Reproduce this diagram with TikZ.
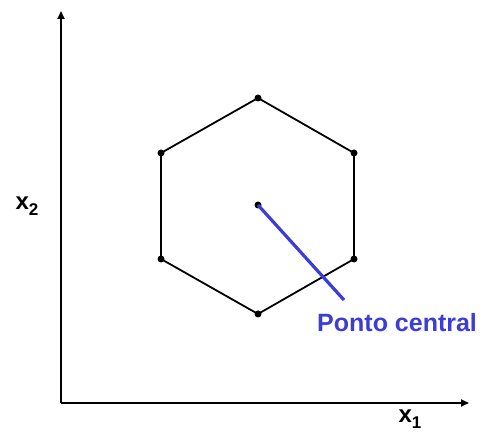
\documentclass[tikz,border=0pt]{standalone}
\usepackage{fontspec}
\setmainfont{Liberation Sans}
\usetikzlibrary{arrows.meta}
\definecolor{pblue}{RGB}{60,60,215}
\begin{document}
\begin{tikzpicture}[x=1pt,y=-1pt,
  axis/.style={line width=1.9pt,-{Triangle[length=8pt,width=7pt]}},
  hexedge/.style={line width=1.8pt,line join=round},
  vdot/.style={circle,fill=black,inner sep=0pt,minimum size=7pt},
  lbl/.style={font=\bfseries\fontsize{24}{28}\selectfont,inner sep=0pt}]
\useasboundingbox (0,0) rectangle (482,435);
\coordinate (o) at (61,403);
\coordinate (ytop) at (61,11);
\coordinate (xend) at (469,403);
\draw[axis] (o) -- (ytop);
\draw[axis] (o) -- (xend);
\node[vdot] (v1) at (258,98) {};
\node[vdot] (v2) at (354,153) {};
\node[vdot] (v3) at (354,259) {};
\node[vdot] (v4) at (258,314) {};
\node[vdot] (v5) at (161,259) {};
\node[vdot] (v6) at (161,153) {};
\node[vdot] (c) at (258,205) {};
\draw[hexedge] (v1.center) -- (v2.center) -- (v3.center) -- (v4.center) -- (v5.center) -- (v6.center) -- cycle;
\coordinate (pend) at (344,300);
\draw[pblue,line width=3.2pt] (c.center) -- (pend);
\node[lbl,text=pblue,anchor=west,font=\bfseries\fontsize{25}{30}\selectfont] (pc) at (317,323) {Ponto central};
\node[lbl] (x2) at (27,206) {x\raisebox{-0.45ex}{\fontsize{17}{20}\selectfont 2}};
\node[lbl] (x1) at (410,419) {x\raisebox{-0.45ex}{\fontsize{17}{20}\selectfont 1}};
\end{tikzpicture}
\end{document}
